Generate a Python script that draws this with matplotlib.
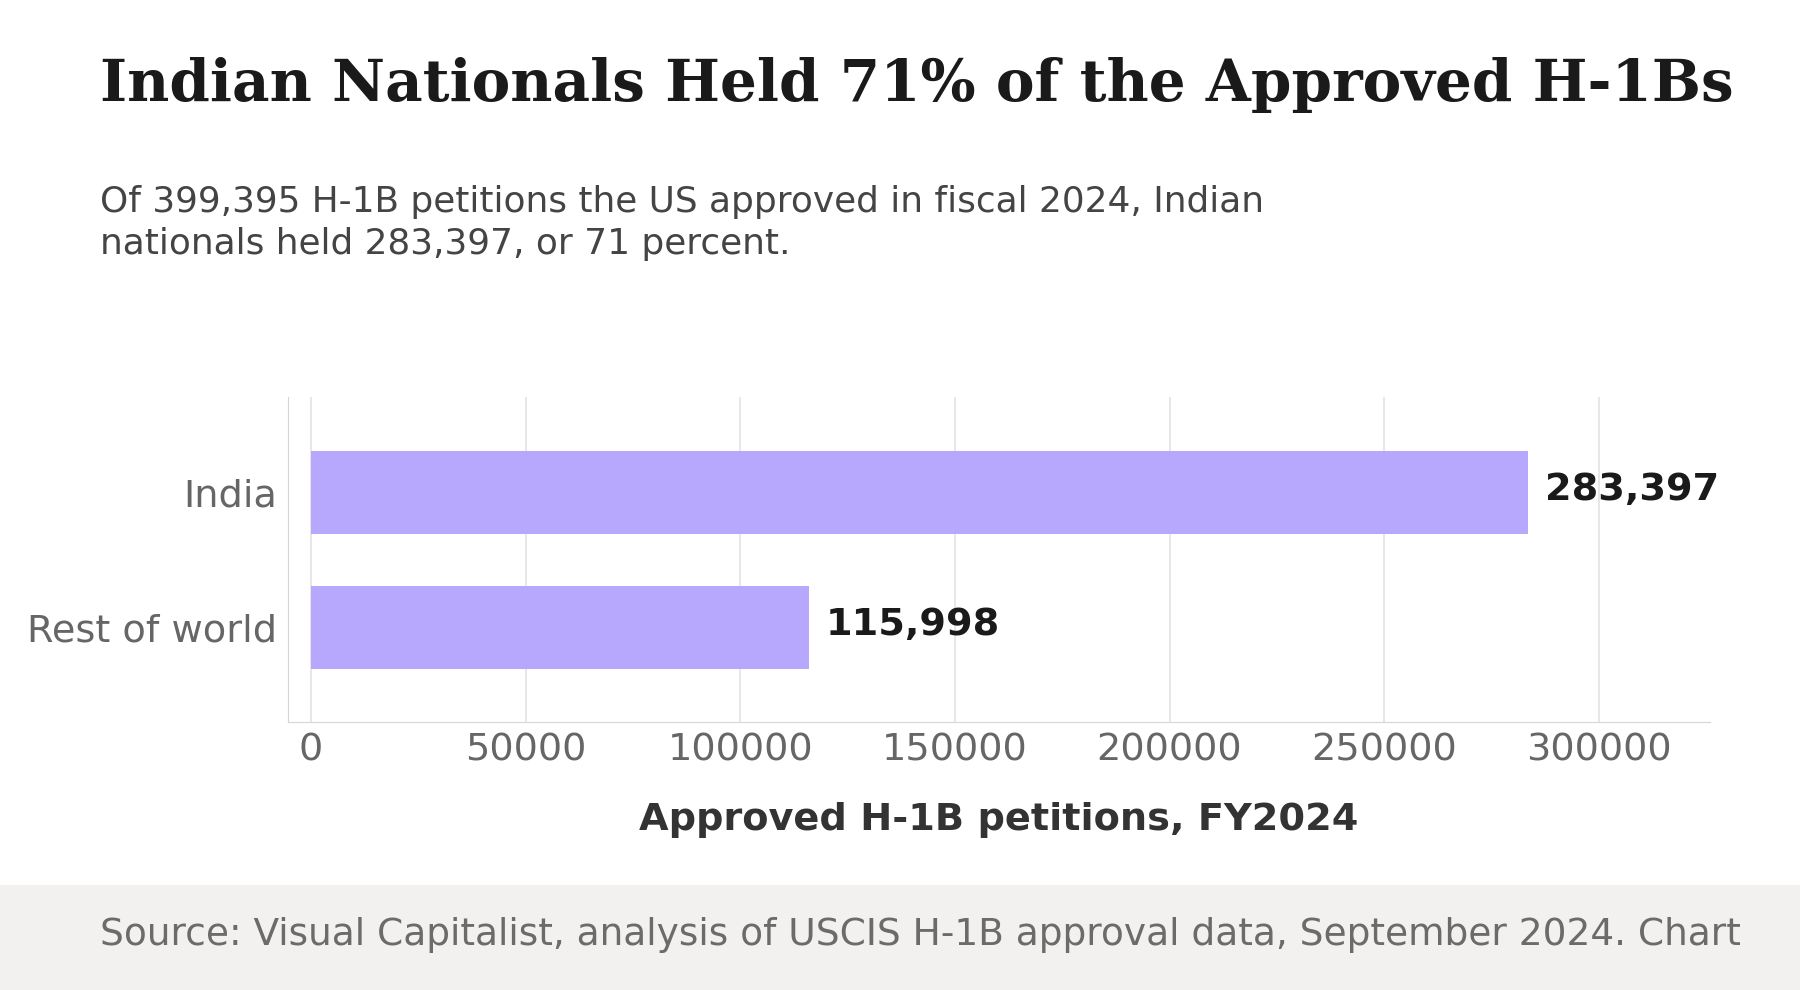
import matplotlib.pyplot as plt
from matplotlib.patches import Rectangle

categories = ['India', 'Rest of world']
values = [283397, 115998]
value_labels = ['283,397', '115,998']
ticks = [0, 50000, 100000, 150000, 200000, 250000, 300000]

fig = plt.figure(figsize=(18, 9.9), dpi=100)
fig.patch.set_facecolor('white')

# footer band
fig.patches.append(Rectangle((0, 0), 1, 1 - 771 / 862, transform=fig.transFigure,
                             facecolor='#f2f1ef', edgecolor='none', zorder=0))

ax = fig.add_axes([0.160, 0.271, 0.790, 0.328])
ax.barh(range(len(categories)), values, height=0.62, color='#b8a8fd', zorder=3)
for i, (v, lab) in enumerate(zip(values, value_labels)):
    ax.text(v + 4000, i - 0.02, lab, va='center', ha='left', fontsize=27.5,
            fontweight='bold', color='#1a1a1a')

ax.set_xlim(-5350, 325900)
ax.set_ylim(1.70, -0.71)
ax.set_yticks(range(len(categories)))
ax.set_yticklabels(categories)
ax.set_xticks(ticks)
ax.set_xticklabels([str(t) for t in ticks])
ax.tick_params(axis='both', length=0, labelsize=27.5, labelcolor='#666666', pad=8)
ax.grid(axis='x', color='#e3e3e3', linewidth=1.2, zorder=0)
for s in ['top', 'right']:
    ax.spines[s].set_visible(False)
for s in ['left', 'bottom']:
    ax.spines[s].set_color('#d5d5d5')
ax.set_xlabel('Approved H-1B petitions, FY2024', fontsize=27.5, fontweight='bold',
              color='#333333', labelpad=24)

fig.text(87 / 1568, 1 - 74 / 862, 'Indian Nationals Held 71% of the Approved H-1Bs',
         family='DejaVu Serif', fontweight='bold', fontsize=41.8, color='#1a1a1a', va='center')
fig.text(87 / 1568, 1 - 194 / 862,
         'Of 399,395 H-1B petitions the US approved in fiscal 2024, Indian\n'
         'nationals held 283,397, or 71 percent.',
         fontsize=25.8, color='#444444', va='center', linespacing=1.3)
fig.text(87 / 1568, 1 - 814 / 862,
         'Source: Visual Capitalist, analysis of USCIS H-1B approval data, September 2024. Chart',
         fontsize=27, color='#6b6b6b', va='center')

fig.savefig('out.png', dpi=100)
